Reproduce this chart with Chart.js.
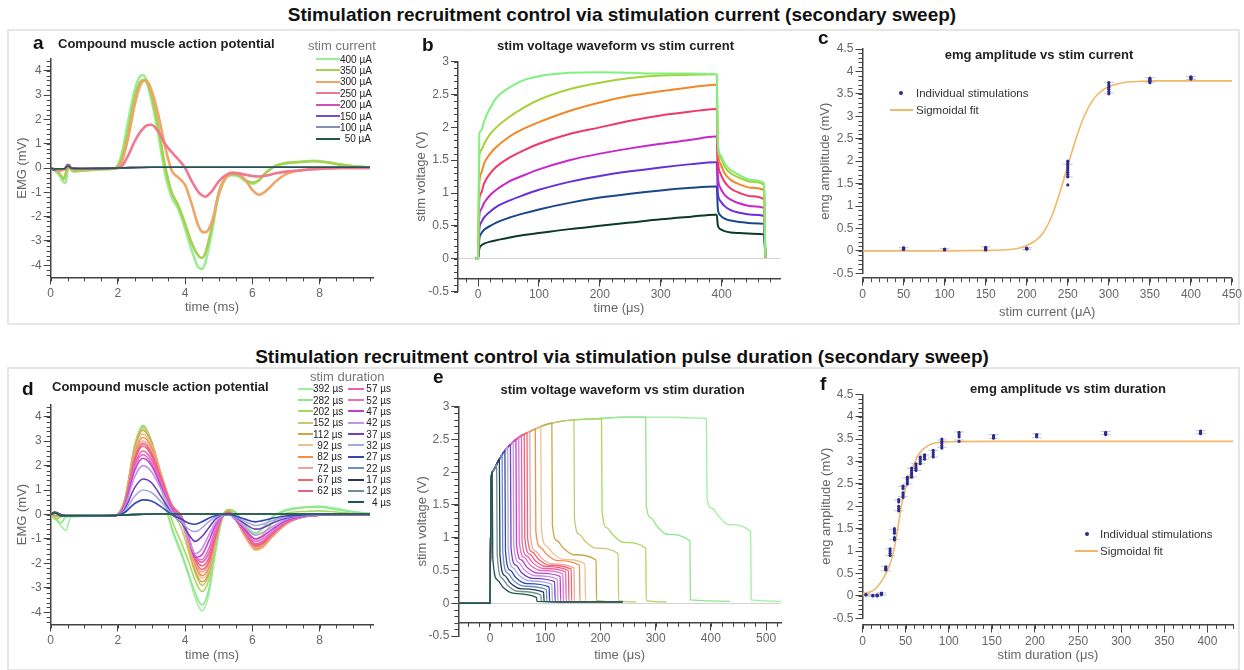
<!DOCTYPE html>
<html><head><meta charset="utf-8">
<script src="https://cdn.jsdelivr.net/npm/chart.js@4.4.1/dist/chart.umd.min.js"></script>
<style>
body{margin:0;background:#fff;font-family:"Liberation Sans",Arial,sans-serif;}
#page{position:relative;width:1244px;height:670px;overflow:hidden;background:#fff;}
.box{position:absolute;border:2px solid #e6e6e6;box-sizing:border-box;}
.rowtitle{position:absolute;left:0;width:1244px;text-align:center;font-weight:bold;font-size:19px;color:#111;transform:translateY(-50%);white-space:nowrap;}
canvas{position:absolute;}
.t{position:absolute;white-space:nowrap;transform:translateY(-50%);}
.letter{font-weight:bold;font-size:19px;color:#111;}
.ptitle{font-weight:bold;font-size:13px;color:#222;}
.ctr{transform:translate(-50%,-50%);}
.legt{font-size:13px;color:#777;}
.lege{position:absolute;display:flex;align-items:center;height:12px;transform:translateY(-50%);}
.lege .ln{display:inline-block;height:2px;}
.lege .tx{display:inline-block;text-align:right;font-size:10px;color:#222;white-space:nowrap;}
.legs{font-size:11.5px;color:#333;}
</style></head>
<body><div id="page">
<div class="box" style="left:7px;top:29px;width:1233px;height:296px;"></div>
<div class="box" style="left:7px;top:367px;width:1233px;height:304px;"></div>
<div class="rowtitle" style="top:15px;">Stimulation recruitment control via stimulation current (secondary sweep)</div>
<div class="rowtitle" style="top:357px;">Stimulation recruitment control via stimulation pulse duration (secondary sweep)</div>
</div>
<script>
// ---------------- DATA ----------------
// Panel a: CMAP vs stim current (time in ms, EMG in mV)
const aLabels = ['400 µA','350 µA','300 µA','250 µA','200 µA','150 µA','100 µA','50 µA'];
const aColors = ['#98ee98','#a8d050','#f0a468','#f07890','#d050c0','#7050d0','#8090b0','#205848'];
const tA = [0,0.1,0.2,0.3,0.4,0.45,0.5,0.55,0.6,0.7,1.0,1.5,1.9,2.1,2.3,2.5,2.65,2.75,2.85,3.0,3.2,3.4,3.6,3.8,4.0,4.2,4.4,4.5,4.6,4.8,5.0,5.2,5.4,5.6,5.8,6.0,6.2,6.4,6.7,7.0,7.4,7.8,8.2,8.6,9.0,9.5];
const a400 = [0,-0.1,-0.2,-0.4,-0.6,-0.6,-0.1,0.1,-0.05,-0.15,-0.1,-0.05,-0.02,0.5,1.9,3.2,3.75,3.82,3.6,2.8,1.4,-0.2,-1.2,-1.7,-2.5,-3.4,-4.1,-4.15,-3.9,-2.6,-1.1,-0.45,-0.3,-0.35,-0.55,-0.65,-0.5,-0.2,0.1,0.2,0.25,0.3,0.25,0.15,0.07,0.03];
const a350 = [0,-0.05,-0.15,-0.3,-0.45,-0.2,-0.05,0.05,-0.05,-0.12,-0.1,-0.05,-0.02,0.35,1.5,2.9,3.5,3.62,3.55,2.95,1.7,0.1,-1.0,-1.55,-2.3,-3.1,-3.62,-3.7,-3.5,-2.4,-1.0,-0.4,-0.25,-0.3,-0.5,-0.6,-0.5,-0.2,0.1,0.2,0.25,0.28,0.24,0.14,0.07,0.03];
const a300 = [0,-0.05,-0.1,-0.12,-0.05,-0.05,0.05,0.1,0,-0.05,-0.05,-0.03,-0.02,0.2,1.2,2.6,3.35,3.58,3.6,3.2,2.2,0.9,-0.1,-0.4,-0.7,-1.5,-2.4,-2.62,-2.65,-2.2,-1.1,-0.4,-0.2,-0.25,-0.5,-0.9,-1.1,-0.95,-0.55,-0.25,-0.1,-0.05,-0.02,0,0,0];
const a250 = [0,-0.05,-0.05,-0.05,-0.05,-0.05,0.1,0.12,0.0,-0.03,-0.03,-0.02,-0.02,0.05,0.5,1.1,1.45,1.62,1.75,1.78,1.5,1.0,0.65,0.35,0.0,-0.55,-1.0,-1.12,-1.18,-0.95,-0.55,-0.3,-0.2,-0.22,-0.28,-0.33,-0.35,-0.32,-0.22,-0.15,-0.1,-0.05,-0.02,0,0,0];
const tAflat = [0,0.1,0.2,0.4,0.5,0.55,0.6,0.8,2.0,3.0,9.5];
const a200 = [0,-0.1,-0.05,-0.05,0.15,0.12,0.0,-0.02,0.0,0.03,0.03];
const a150 = [0,-0.08,-0.05,-0.05,0.12,0.1,0.0,-0.02,0.0,0.03,0.03];
const a100 = [0,-0.06,-0.04,-0.04,0.1,0.08,0.0,-0.02,0.0,0.03,0.03];
const a50  = [0,-0.04,-0.03,-0.03,0.08,0.06,0.0,-0.02,0.0,0.03,0.03];

// Panel b: stim voltage waveform vs stim current (time in µs, V)
const bColors = ['#80f080','#a8d038','#f08828','#f03868','#c828c8','#6830d8','#184888','#0c3a24'];
const tB = [-5,-1,0,2,5,10,20,30,50,75,100,150,200,250,300,350,390,392,394,398,405,415,430,450,470,471,472];
const b400 = [0,0,0.05,1.9,1.95,2.1,2.3,2.45,2.6,2.72,2.78,2.83,2.84,2.83,2.82,2.82,2.81,2.8,1.75,1.58,1.45,1.35,1.27,1.2,1.15,0.5,0.02];
const b350 = [0,0,0.05,1.55,1.65,1.75,1.9,2.0,2.15,2.3,2.42,2.58,2.68,2.75,2.79,2.8,2.81,2.8,1.72,1.55,1.4,1.3,1.23,1.17,1.12,0.5,0.02];
const b300 = [0,0,0.04,1.15,1.3,1.45,1.6,1.7,1.85,1.98,2.08,2.25,2.38,2.48,2.55,2.61,2.65,2.65,1.65,1.45,1.3,1.2,1.13,1.08,1.04,0.45,0.02];
const b250 = [0,0,0.03,0.9,1.0,1.15,1.3,1.4,1.53,1.65,1.75,1.9,2.0,2.1,2.18,2.24,2.28,2.28,1.5,1.3,1.17,1.07,1.0,0.95,0.9,0.4,0.02];
const b200 = [0,0,0.03,0.65,0.75,0.85,0.97,1.05,1.17,1.27,1.36,1.5,1.6,1.68,1.75,1.81,1.86,1.86,1.25,1.08,0.97,0.9,0.84,0.8,0.77,0.35,0.02];
const b150 = [0,0,0.02,0.45,0.55,0.63,0.72,0.79,0.88,0.97,1.05,1.17,1.26,1.33,1.39,1.44,1.47,1.47,1.0,0.88,0.8,0.74,0.7,0.67,0.65,0.3,0.02];
const b100 = [0,0,0.02,0.3,0.38,0.44,0.5,0.55,0.62,0.69,0.75,0.85,0.93,0.99,1.04,1.08,1.1,1.1,0.75,0.66,0.61,0.58,0.56,0.54,0.53,0.25,0.02];
const b50  = [0,0,0.01,0.15,0.2,0.23,0.26,0.28,0.32,0.36,0.39,0.45,0.5,0.55,0.6,0.64,0.67,0.67,0.5,0.45,0.42,0.4,0.39,0.38,0.37,0.2,0.02];

// Panel c: emg amplitude vs stim current
const cCurrent = [50,100,150,200,250,300,350,400];
const cAmp = [
  [0.05,0.03,0.07,0.04,0.06],
  [0.03,0.02,0.04,0.03],
  [0.04,0.02,0.06,0.08,0.03],
  [0.05,0.04,0.06,0.05],
  [1.85,1.7,1.95,1.8,2.0,1.75,1.9,1.65,1.47],
  [3.7,3.6,3.55,3.5,3.75,3.65],
  [3.8,3.78,3.85,3.82,3.75],
  [3.85,3.87,3.83,3.88]
];
const cErrLo = [0.02,0.01,0.0,0.03,1.65,3.52,3.76,3.82];
const cErrHi = [0.08,0.05,0.09,0.07,1.93,3.76,3.86,3.89];
const cFitX = [0,50,100,150,180,190,200,210,220,230,240,250,260,270,280,290,300,310,320,340,360,400,450];
const cFitY = [0,0,0,0.01,0.03,0.06,0.12,0.22,0.4,0.75,1.28,1.9,2.5,3.0,3.35,3.55,3.66,3.72,3.76,3.78,3.79,3.79,3.79];

// Panels d/e/f: stim duration sweep
const durLabels = ['392 µs','282 µs','202 µs','152 µs','112 µs','92 µs','82 µs','72 µs','67 µs','62 µs','57 µs','52 µs','47 µs','42 µs','37 µs','32 µs','27 µs','22 µs','17 µs','12 µs','4 µs'];
const durColors = ['#a0f0a0','#8ee68e','#a8d860','#c8c878','#c8a848','#f0c090','#f09050','#f4a0a0','#f06868','#e8608a','#f060a8','#e070d0','#c040d0','#c890e8','#7040c0','#a8a8e8','#3048b0','#6890c8','#283858','#709090','#205848'];
const durUs = [392,282,202,152,112,92,82,72,67,62,57,52,47,42,37,32,27,22,17,12,4];

// Panel d: CMAP vs stim duration
const tD = [0,0.15,0.3,0.45,0.6,1.0,1.9,2.2,2.5,2.75,3.0,3.3,3.6,3.9,4.1,4.3,4.5,4.7,4.9,5.1,5.3,5.5,5.8,6.1,6.3,6.6,7.0,7.5,8.0,8.5,9.0,9.5];
const d392 = [0,-0.2,-0.45,-0.65,-0.1,-0.08,-0.05,0.6,2.8,3.6,2.9,1.0,-0.6,-1.7,-2.5,-3.4,-3.95,-3.3,-1.6,-0.2,0.2,0.1,-0.5,-0.8,-0.6,-0.1,0.2,0.3,0.35,0.25,0.12,0.05];
const d282 = [0,-0.15,-0.35,-0.1,-0.08,-0.06,-0.05,0.6,2.85,3.65,2.95,1.05,-0.5,-1.6,-2.4,-3.2,-3.7,-3.1,-1.5,-0.2,0.2,0.1,-0.45,-0.75,-0.55,-0.1,0.15,0.28,0.3,0.2,0.1,0.04];
const d202 = [0,-0.2,-0.1,-0.06,-0.05,-0.05,-0.05,0.6,2.8,3.6,3.0,1.3,-0.2,-1.2,-1.9,-2.7,-3.15,-2.7,-1.3,-0.1,0.2,0.05,-0.6,-1.0,-0.85,-0.35,0.05,0.12,0.15,0.1,0.05,0.02];
const d152 = [0,-0.1,-0.06,-0.05,-0.05,-0.05,-0.05,0.55,2.75,3.55,3.0,1.5,0.2,-0.6,-1.5,-2.4,-2.9,-2.5,-1.2,-0.1,0.15,-0.1,-0.8,-1.3,-1.2,-0.7,-0.25,-0.05,0.02,0.02,0.01,0];
const d112 = [0,-0.05,-0.05,-0.05,-0.05,-0.05,-0.05,0.55,2.7,3.45,2.95,1.6,0.35,-0.3,-1.3,-2.3,-2.75,-2.4,-1.1,-0.1,0.15,-0.15,-0.9,-1.45,-1.35,-0.85,-0.35,-0.1,-0.02,0,0,0];
const d92  = [0,0.05,-0.03,-0.05,-0.05,-0.05,-0.05,0.5,2.6,3.3,2.85,1.6,0.4,-0.2,-1.2,-2.15,-2.6,-2.3,-1.1,-0.1,0.1,-0.2,-0.95,-1.45,-1.35,-0.9,-0.4,-0.1,-0.03,0,0,0];
const d82  = [0,0.05,-0.03,-0.05,-0.05,-0.05,-0.05,0.5,2.5,3.15,2.75,1.55,0.4,-0.15,-1.1,-2.05,-2.5,-2.2,-1.05,-0.1,0.1,-0.2,-0.9,-1.4,-1.3,-0.9,-0.4,-0.1,-0.03,0,0,0];
const d72  = [0,0.05,-0.03,-0.05,-0.05,-0.05,-0.05,0.45,2.4,3.0,2.6,1.5,0.4,-0.1,-1.0,-1.95,-2.35,-2.05,-1.0,-0.1,0.1,-0.2,-0.85,-1.35,-1.25,-0.85,-0.38,-0.1,-0.03,0,0,0];
const d67  = [0,0.05,-0.03,-0.05,-0.05,-0.05,-0.05,0.45,2.3,2.9,2.5,1.45,0.38,-0.1,-0.95,-1.85,-2.25,-1.95,-0.95,-0.1,0.08,-0.2,-0.8,-1.3,-1.2,-0.8,-0.35,-0.1,-0.03,0,0,0];
const d62  = [0,0.05,-0.03,-0.05,-0.05,-0.05,-0.05,0.4,2.2,2.8,2.4,1.4,0.35,-0.1,-0.9,-1.75,-2.1,-1.8,-0.9,-0.1,0.08,-0.2,-0.78,-1.25,-1.15,-0.78,-0.33,-0.1,-0.03,0,0,0];
const d57  = [0,0.08,0,-0.05,-0.05,-0.05,-0.05,0.4,2.05,2.6,2.25,1.3,0.3,-0.15,-0.95,-1.7,-1.95,-1.6,-0.75,-0.1,0.05,-0.2,-0.75,-1.2,-1.1,-0.75,-0.3,-0.1,-0.03,0,0,0];
const d52  = [0,0.08,0,-0.05,-0.05,-0.05,-0.05,0.38,1.95,2.45,2.1,1.2,0.25,-0.2,-0.95,-1.7,-1.85,-1.4,-0.6,-0.1,0.02,-0.2,-0.7,-1.1,-1.0,-0.7,-0.3,-0.1,-0.03,0,0,0];
const d47  = [0,0.08,0,-0.05,-0.05,-0.05,-0.05,0.35,1.8,2.3,2.0,1.1,0.2,-0.25,-1.0,-1.75,-1.65,-1.1,-0.45,-0.05,0,-0.2,-0.65,-1.0,-0.9,-0.6,-0.25,-0.08,-0.03,0,0,0];
const d42  = [0,0.08,0,-0.05,-0.05,-0.05,-0.05,0.3,1.55,2.0,1.75,1.0,0.15,-0.3,-1.0,-1.6,-1.4,-0.85,-0.35,-0.05,0,-0.18,-0.55,-0.85,-0.75,-0.5,-0.2,-0.07,-0.02,0,0,0];
const d37  = [0,0.08,0,-0.05,-0.05,-0.05,-0.05,0.22,1.1,1.45,1.3,0.7,0.05,-0.35,-0.8,-1.1,-0.9,-0.55,-0.2,-0.02,0,-0.12,-0.4,-0.6,-0.55,-0.35,-0.15,-0.05,-0.02,0,0,0];
const d32  = [0,0.08,0,-0.05,-0.05,-0.05,-0.05,0.15,0.75,1.0,0.9,0.5,0.02,-0.3,-0.6,-0.7,-0.55,-0.3,-0.1,-0.02,0,-0.1,-0.3,-0.45,-0.4,-0.25,-0.1,-0.04,-0.02,0,0,0];
const d27  = [0,0.08,0,-0.05,-0.05,-0.05,-0.05,0.08,0.45,0.6,0.55,0.3,0,-0.2,-0.35,-0.4,-0.3,-0.15,-0.05,0,0,-0.06,-0.2,-0.3,-0.25,-0.15,-0.06,-0.02,0,0,0,0];
const tDflat = [0,0.1,0.2,0.3,0.5,1.0,2.0,3.0,9.5];
const d22 = [0,0.1,0.05,-0.05,-0.04,-0.04,-0.03,0.02,0.02];
const d17 = [0,0.09,0.04,-0.05,-0.04,-0.04,-0.03,0.02,0.02];
const d12 = [0,0.08,0.03,-0.04,-0.04,-0.04,-0.03,0.02,0.02];
const d4  = [0,0.07,0.02,-0.04,-0.04,-0.04,-0.03,0.02,0.02];

// Panel e: stim voltage waveform vs stim duration
const preT = [-57,-1];
const preV = [0,0];
const envT = [0,2,4,8,12,17,22,27,32,37,42,47,52,57,62,67,72,82,92,112,130,152,175,202,240,282,330,360,392];
const envV = [0,1.85,2.0,2.05,2.12,2.2,2.27,2.33,2.38,2.42,2.46,2.5,2.53,2.56,2.58,2.6,2.62,2.66,2.7,2.75,2.78,2.8,2.81,2.82,2.84,2.84,2.84,2.83,2.82];
const decayDt = [1,10,20,40,80];
const dropK = [1.6,1.5,1.4,1.3,1.2,1.15,1.1,1.05,1.0,1.0,0.95,0.95,0.9,0.9,0.85,0.85,0.8,0.8,0.75,0.75,0.7];
const dec10 = [1.45,1.3,1.15,1.05,0.95,0.88,0.85,0.8,0.78,0.75,0.72,0.7,0.66,0.62,0.58,0.54,0.5,0.46,0.42,0.38,0.35];
const dec20 = [1.35,1.18,1.05,0.95,0.85,0.78,0.75,0.7,0.68,0.65,0.62,0.59,0.55,0.51,0.47,0.43,0.39,0.35,0.31,0.27,0.24];
const dec40 = [1.2,1.05,0.93,0.84,0.74,0.67,0.65,0.6,0.58,0.56,0.53,0.5,0.46,0.42,0.38,0.34,0.3,0.26,0.22,0.18,0.15];
const dec80 = [1.1,0.95,0.84,0.76,0.66,0.6,0.58,0.54,0.52,0.5,0.48,0.45,0.41,0.37,0.33,0.29,0.25,0.21,0.17,0.13,0.09];
const offV = [0.05,0.05,0.04,0.04,0.04,0.03,0.03,0.03,0.03,0.03,0.03,0.03,0.03,0.03,0.03,0.03,0.03,0.03,0.03,0.03,0.03];
const tailEnd = [527,435,320,265,240,240,240,240,240,240,240,240,240,240,240,240,240,240,240,240,240];
const tailV = [0.03,0.03,0.02,0.02,0.02,0.02,0.02,0.02,0.02,0.02,0.02,0.02,0.02,0.02,0.02,0.02,0.02,0.02,0.02,0.02,0.02];

// Panel f: emg amplitude vs stim duration
const fDur = [4,12,17,22,27,32,37,42,47,52,57,62,67,72,82,92,112,152,202,282,392];
const fAmp = [
  [0.03,0.02],[0.0,0.01],[0.0,0.02,0.01],[0.05,0.03,0.06],
  [0.6,0.62,0.58,0.65],[0.95,1.0,0.9,1.05],[1.3,1.45,1.4,1.25,1.5],[1.95,2.1,2.0,1.9,2.15],
  [2.3,2.4,2.25,2.45,2.2],[2.5,2.6,2.55,2.65],[2.7,2.8,2.75,2.85,2.65],[2.8,2.9,2.85,2.95],
  [2.95,3.05,3.0,3.1],[3.05,3.12,3.1,3.15],[3.1,3.2,3.15,3.25],[3.3,3.4,3.35,3.45,3.5],
  [3.6,3.65,3.55,3.45],[3.55,3.58,3.52],[3.55,3.6,3.58],[3.62,3.65,3.6],[3.65,3.68,3.62]
];
const fErrLo = [0.0,-0.01,-0.01,0.02,0.56,0.9,1.26,1.9,2.22,2.5,2.66,2.8,2.95,3.05,3.1,3.32,3.48,3.52,3.53,3.6,3.62];
const fErrHi = [0.05,0.03,0.04,0.07,0.66,1.05,1.48,2.14,2.45,2.63,2.85,2.95,3.1,3.15,3.25,3.48,3.66,3.6,3.62,3.67,3.69];
const fFitX = [0,5,10,15,20,25,30,35,40,45,50,55,60,65,70,75,80,90,100,150,430];
const fFitY = [0.05,0.07,0.1,0.16,0.27,0.42,0.62,0.9,1.4,2.0,2.4,2.7,2.95,3.15,3.27,3.34,3.39,3.43,3.44,3.45,3.45];

// ---------------- HELPERS ----------------
const page = document.getElementById('page');
Chart.defaults.font.family = '"Liberation Sans", Arial, sans-serif';
Chart.defaults.color = '#666';
const xy = (xs, ys) => xs.map((x, i) => ({x: x, y: ys[i]}));
const line = (data, color, w) => ({data: data, showLine: true, borderColor: color, backgroundColor: color, borderWidth: w, pointRadius: 0, fill: false, cubicInterpolationMode: 'monotone'});
const stepTicks = (min, max, step) => {
  const out = [];
  for (let i = Math.ceil(min / step - 1e-9); i * step <= max + 1e-9; i++) out.push({value: +(i * step).toFixed(6)});
  return out;
};

const minorTickPlugin = {
  id: 'minorTicks',
  afterDraw(chart, args, o) {
    const ctx = chart.ctx, ca = chart.chartArea, xs = chart.scales.x, ys = chart.scales.y;
    const axisY = (o.xPos === undefined || o.xPos === null) ? ca.bottom : ys.getPixelForValue(o.xPos);
    ctx.save();
    ctx.strokeStyle = '#444'; ctx.lineWidth = 1;
    ctx.beginPath();
    stepTicks(xs.min, xs.max, o.xStep).forEach(t => {
      const p = Math.round(xs.getPixelForValue(t.value)) + 0.5;
      ctx.moveTo(p, axisY); ctx.lineTo(p, axisY + o.len);
    });
    stepTicks(ys.min, ys.max, o.yStep).forEach(t => {
      const p = Math.round(ys.getPixelForValue(t.value)) + 0.5;
      ctx.moveTo(ca.left - o.len, p); ctx.lineTo(ca.left, p);
    });
    ctx.stroke();
    ctx.restore();
  }
};

function panel(p) {
  const R = p.rect, A = p.area, X = p.x, Y = p.y;
  const cv = document.createElement('canvas');
  cv.width = R.w; cv.height = R.h;
  cv.style.left = R.l + 'px'; cv.style.top = R.t + 'px';
  cv.style.width = R.w + 'px'; cv.style.height = R.h + 'px';
  page.appendChild(cv);
  const half = 13 * 1.2 / 2;
  const yW = A.l - R.l;
  let padB, xH, xTitlePad;
  if (X.pos === undefined) {
    xH = R.t + R.h - A.b; padB = 0; xTitlePad = R.t + R.h - X.titleY - half;
  } else {
    padB = R.t + R.h - A.b;
    const ap = A.b - (X.pos - Y.min) / (Y.max - Y.min) * (A.b - A.t);
    xH = X.titleY - ap + half; xTitlePad = 0;
  }
  const fmt = v => String(Math.round(v * 1000) / 1000);
  const yGrid = {display: true, drawOnChartArea: !!p.zero, drawTicks: true, tickLength: 7, tickColor: '#444', lineWidth: 1,
    color: p.zero ? (c => (c.tick && Math.abs(c.tick.value) < 1e-9) ? '#d4d4d4' : 'rgba(0,0,0,0)') : '#444'};
  return new Chart(cv, {
    type: 'scatter',
    data: {datasets: p.datasets},
    options: {
      responsive: false, animation: false, devicePixelRatio: 1,
      layout: {padding: {left: 0, top: A.t - R.t, right: R.l + R.w - A.r, bottom: padB}},
      plugins: {legend: {display: false}, tooltip: {enabled: false},
        minorTicks: {xStep: X.minor, yStep: Y.minor, xPos: X.pos, len: 4}},
      scales: {
        x: {type: 'linear', position: X.pos === undefined ? 'bottom' : {y: X.pos}, min: X.min, max: X.max,
          afterFit: s => { s.height = xH; },
          afterBuildTicks: s => { s.ticks = stepTicks(X.min, X.max, X.major); },
          ticks: {autoSkip: false, maxRotation: 0, padding: 2, color: '#666', font: {size: 12}, callback: fmt},
          grid: {display: true, drawOnChartArea: false, drawTicks: true, tickLength: 7, tickColor: '#444', color: '#444'},
          border: {display: true, color: '#444', width: 1.5},
          title: {display: true, text: X.title, color: '#666', font: {size: 13}, padding: {top: 0, bottom: xTitlePad}}},
        y: {type: 'linear', position: 'left', min: Y.min, max: Y.max,
          afterFit: s => { s.width = yW; },
          afterBuildTicks: s => { s.ticks = stepTicks(Y.min, Y.max, Y.major); },
          ticks: {autoSkip: false, padding: 2, color: '#666', font: {size: 12}, callback: fmt},
          grid: yGrid,
          border: {display: true, color: '#444', width: 1.5},
          title: {display: true, text: Y.title, color: '#666', font: {size: 13}, padding: {top: Y.titleX - R.l - half, bottom: 0}}}
      }
    },
    plugins: [minorTickPlugin]
  });
}

function text(cls, str, left, cy, extra) {
  const d = document.createElement('div');
  d.className = 't ' + cls + (extra ? ' ' + extra : '');
  d.textContent = str;
  d.style.left = left + 'px'; d.style.top = cy + 'px';
  page.appendChild(d);
  return d;
}
function legEntry(left, cy, color, lineW, label, labelW) {
  const e = document.createElement('div');
  e.className = 'lege';
  e.style.left = left + 'px'; e.style.top = cy + 'px';
  const l = document.createElement('span'); l.className = 'ln'; l.style.width = lineW + 'px'; l.style.background = color;
  const t = document.createElement('span'); t.className = 'tx'; t.style.width = labelW + 'px'; t.textContent = label;
  e.appendChild(l); e.appendChild(t);
  page.appendChild(e);
}

// ---------------- PANEL a ----------------
{
  const aSeries = [[tA, a400], [tA, a350], [tA, a300], [tA, a250], [tAflat, a200], [tAflat, a150], [tAflat, a100], [tAflat, a50]];
  const ds = [];
  for (let i = aSeries.length - 1; i >= 0; i--) ds.push(line(xy(aSeries[i][0], aSeries[i][1]), aColors[i], i < 4 ? 2.6 : 1.6));
  panel({rect: {l: 8, t: 31, w: 392, h: 292}, area: {l: 50.7, t: 58.6, r: 373.3, b: 277.4},
    x: {min: 0, max: 9.6, major: 2, minor: 0.5, title: 'time (ms)', titleY: 307.3},
    y: {min: -4.5, max: 4.5, major: 1, minor: 0.2, title: 'EMG (mV)', titleX: 22},
    datasets: ds});
}
// ---------------- PANEL b ----------------
{
  const bSeries = [b400, b350, b300, b250, b200, b150, b100, b50];
  const ds = bSeries.map((v, i) => line(xy(tB, v), bColors[i], 2));
  panel({rect: {l: 404, t: 31, w: 404, h: 292}, area: {l: 458, t: 61.7, r: 780, b: 291.5},
    x: {min: -33, max: 496, major: 100, minor: 20, pos: -0.3, title: 'time (\u03bcs)', titleY: 308.3},
    y: {min: -0.5, max: 3, major: 0.5, minor: 0.1, title: 'stim voltage (V)', titleX: 421.7},
    zero: true, datasets: ds});
}
// ---------------- PANEL c ----------------
{
  const ds = [];
  const pts = [];
  cCurrent.forEach((x, i) => cAmp[i].forEach(v => pts.push({x: x, y: v})));
  ds.push({data: pts, showLine: false, pointRadius: 1.6, pointBackgroundColor: '#2a2a90', pointBorderWidth: 0});
  ds.push(line(xy(cFitX, cFitY), '#f0b868', 1.6));
  cCurrent.forEach((x, i) => {
    ds.push({data: [{x: x, y: cErrLo[i]}, {x: x, y: cErrHi[i]}], showLine: true, borderColor: '#c8c8c8', borderWidth: 1,
      pointStyle: 'line', pointRadius: 5, pointBorderColor: '#c8c8c8', pointBorderWidth: 1});
  });
  panel({rect: {l: 812, t: 31, w: 432, h: 292}, area: {l: 862.5, t: 49, r: 1233, b: 273.3},
    x: {min: 0, max: 450, major: 50, minor: 10, pos: -0.61, title: 'stim current (\u03bcA)', titleY: 312.7},
    y: {min: -0.5, max: 4.5, major: 0.5, minor: 0.1, title: 'emg amplitude (mV)', titleX: 825},
    datasets: ds});
}
// ---------------- PANEL d ----------------
{
  const dSeries = [[tD, d392], [tD, d282], [tD, d202], [tD, d152], [tD, d112], [tD, d92], [tD, d82], [tD, d72], [tD, d67], [tD, d62],
    [tD, d57], [tD, d52], [tD, d47], [tD, d42], [tD, d37], [tD, d32], [tD, d27], [tDflat, d22], [tDflat, d17], [tDflat, d12], [tDflat, d4]];
  const ds = [];
  for (let i = dSeries.length - 1; i >= 0; i--) ds.push(line(xy(dSeries[i][0], dSeries[i][1]), durColors[i], 1.6));
  panel({rect: {l: 8, t: 369, w: 392, h: 299}, area: {l: 50.7, t: 404.5, r: 373.3, b: 624.5},
    x: {min: 0, max: 9.6, major: 2, minor: 0.5, title: 'time (ms)', titleY: 655},
    y: {min: -4.5, max: 4.5, major: 1, minor: 0.2, title: 'EMG (mV)', titleX: 22},
    datasets: ds});
}
// ---------------- PANEL e ----------------
{
  const ds = [];
  for (let i = durUs.length - 1; i >= 0; i--) {
    const d = durUs[i];
    const pts = xy(preT, preV);
    envT.forEach((t, k) => { if (t <= d) pts.push({x: t, y: envV[k]}); });
    const dv = [dropK[i], dec10[i], dec20[i], dec40[i], dec80[i]];
    decayDt.forEach((dt, k) => pts.push({x: d + dt, y: dv[k]}));
    pts.push({x: d + decayDt[decayDt.length - 1] + 1, y: offV[i]});
    pts.push({x: tailEnd[i], y: tailV[i]});
    ds.push(line(pts, durColors[i], 1.3));
  }
  panel({rect: {l: 404, t: 369, w: 404, h: 299}, area: {l: 458.3, t: 406.7, r: 781, b: 636},
    x: {min: -57.4, max: 527, major: 100, minor: 20, pos: -0.3, title: 'time (\u03bcs)', titleY: 655},
    y: {min: -0.5, max: 3, major: 0.5, minor: 0.1, title: 'stim voltage (V)', titleX: 422.5},
    zero: true, datasets: ds});
}
// ---------------- PANEL f ----------------
{
  const ds = [];
  const pts = [];
  fDur.forEach((x, i) => fAmp[i].forEach(v => pts.push({x: x, y: v})));
  ds.push({data: pts, showLine: false, pointRadius: 1.6, pointBackgroundColor: '#2a2a90', pointBorderWidth: 0});
  ds.push(line(xy(fFitX, fFitY), '#f0b868', 1.6));
  fDur.forEach((x, i) => {
    ds.push({data: [{x: x, y: fErrLo[i]}, {x: x, y: fErrHi[i]}], showLine: true, borderColor: '#c8c8c8', borderWidth: 1,
      pointStyle: 'line', pointRadius: 5, pointBorderColor: '#c8c8c8', pointBorderWidth: 1});
  });
  panel({rect: {l: 812, t: 369, w: 432, h: 299}, area: {l: 862.5, t: 394.3, r: 1233.3, b: 618.3},
    x: {min: 0, max: 430, major: 50, minor: 10, pos: -0.65, title: 'stim duration (\u03bcs)', titleY: 655},
    y: {min: -0.5, max: 4.5, major: 0.5, minor: 0.1, title: 'emg amplitude (mV)', titleX: 826},
    datasets: ds});
}

// ---------------- TEXT ----------------
text('letter', 'a', 33, 43); text('letter', 'b', 422, 45); text('letter', 'c', 818, 38);
text('letter', 'd', 22, 389); text('letter', 'e', 433, 377); text('letter', 'f', 820, 384);
text('ptitle', 'Compound muscle action potential', 58, 43);
text('ptitle', 'stim voltage waveform vs stim current', 615.5, 45, 'ctr');
text('ptitle', 'emg amplitude vs stim current', 1039, 54, 'ctr');
text('ptitle', 'Compound muscle action potential', 52, 386);
text('ptitle', 'stim voltage waveform vs stim duration', 622.5, 389, 'ctr');
text('ptitle', 'emg amplitude vs stim duration', 1068, 388, 'ctr');

text('legt', 'stim current', 308, 45);
aLabels.forEach((lb, i) => legEntry(316, 59 + i * 11.4, aColors[i], 24, lb, 31));
text('legt', 'stim duration', 310, 376);
durLabels.forEach((lb, i) => {
  if (i < 10) legEntry(298, 388.7 + i * 11.35, durColors[i], 15, lb, 29);
  else legEntry(348, 388.7 + (i - 10) * 11.35, durColors[i], 16, lb, 27);
});

function dotLegend(dotX, dotY, lineX, lineY, textX) {
  const dot = document.createElement('div');
  dot.style.cssText = 'position:absolute;width:4px;height:4px;border-radius:2px;background:#2a2a90;left:' + (dotX - 2) + 'px;top:' + (dotY - 2) + 'px;';
  page.appendChild(dot);
  const ln = document.createElement('div');
  ln.style.cssText = 'position:absolute;height:1.6px;background:#f0b868;left:' + lineX[0] + 'px;width:' + (lineX[1] - lineX[0]) + 'px;top:' + (lineY - 1) + 'px;';
  page.appendChild(ln);
  text('legs', 'Individual stimulations', textX, dotY);
  text('legs', 'Sigmoidal fit', textX, lineY);
}
dotLegend(900.7, 92.7, [890, 913], 110, 916);
dotLegend(1086.7, 534, [1075, 1098], 551, 1100);
</script>
</body></html>
